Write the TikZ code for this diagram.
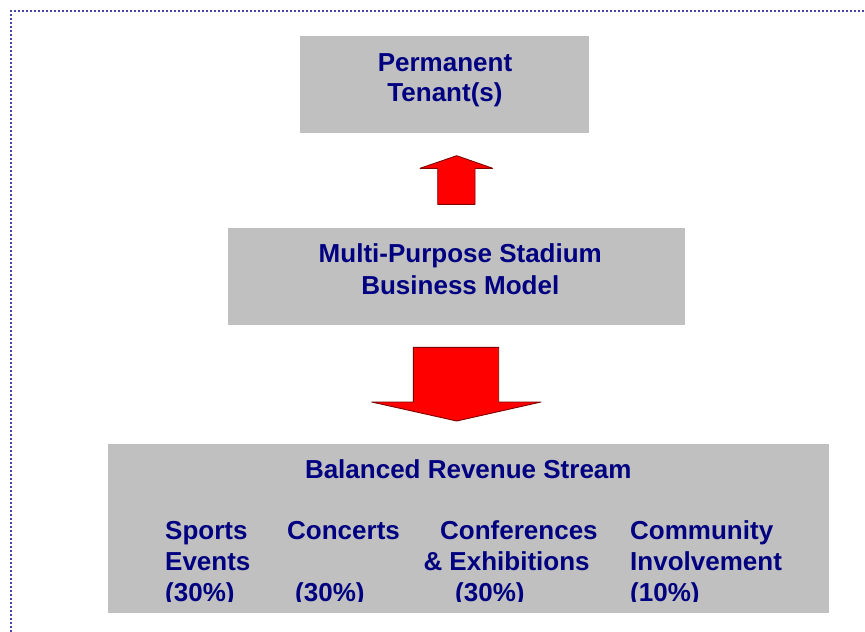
\documentclass[tikz,border=0pt]{standalone}
\usepackage{fontspec}
\setmainfont{Liberation Sans}
\definecolor{boxgray}{RGB}{192,192,192}
\definecolor{navytext}{RGB}{0,0,128}
\definecolor{arrowred}{RGB}{255,0,0}
\definecolor{arrowedge}{RGB}{128,0,0}
\definecolor{framedot}{RGB}{70,70,165}
\begin{document}
\begin{tikzpicture}[x=1pt,y=-1pt,
  panel/.style={fill=boxgray,draw=none},
  label/.style={inner sep=0pt,text=navytext,font=\fontsize{26}{31}\selectfont\bfseries},
  blockarrow/.style={fill=arrowred,draw=arrowedge,line width=0.9pt,line join=round},
  frameline/.style={draw=framedot,line width=2pt,dash pattern=on 2pt off 2pt}]
\useasboundingbox (0,0) rectangle (865,632);

% dotted frame along the top and left edges
\draw[frameline] (11,632) -- (11,11) -- (865,11);

% boxes
\path[panel] (300,36) rectangle (589,132.5);
\path[panel] (228.3,227.5) rectangle (685,324.5);
\path[panel] (108,444) rectangle (829,612.5);

% top box
\node[label,anchor=base] (perm) at (445,71) {Permanent};
\node[label,anchor=base] (tenant) at (445,101.7) {Tenant(s)};

% middle box
\node[label,anchor=base] (mps) at (460.3,262.7) {Multi-Purpose Stadium};
\node[label,anchor=base] (bm) at (460.3,294) {Business Model};

% block arrow pointing up
\draw[blockarrow] (456.7,155.7) -- (492.7,168.3) -- (475,168.3) -- (475,204.3)
  -- (437.7,204.3) -- (437.7,168.3) -- (420,168.3) -- cycle;

% block arrow pointing down
\draw[blockarrow] (413.3,347.3) -- (498.7,347.3) -- (498.7,402) -- (541,402)
  -- (456.7,421) -- (371.7,402) -- (413.3,402) -- cycle;

% bottom box
\node[label,anchor=base] (brs) at (468.3,478.3) {Balanced Revenue Stream};
\begin{scope}
  \clip (108,444) rectangle (829,601.5);
  \node[label,anchor=base west] (sp1) at (165,539) {Sports};
  \node[label,anchor=base west] (sp2) at (165,570) {Events};
  \node[label,anchor=base west] (sp3) at (165,601) {(30\%)};
  \node[label,anchor=base west] (co1) at (287,539) {Concerts};
  \node[label,anchor=base west] (co3) at (295,601) {(30\%)};
  \node[label,anchor=base west] (cf1) at (440,539) {Conferences};
  \node[label,anchor=base west] (cf2) at (423.3,570) {\& Exhibitions};
  \node[label,anchor=base west] (cf3) at (455,601) {(30\%)};
  \node[label,anchor=base west] (cm1) at (630,539) {Community};
  \node[label,anchor=base west] (cm2) at (630,570) {Involvement};
  \node[label,anchor=base west] (cm3) at (630,601) {(10\%)};
\end{scope}
\end{tikzpicture}
\end{document}
